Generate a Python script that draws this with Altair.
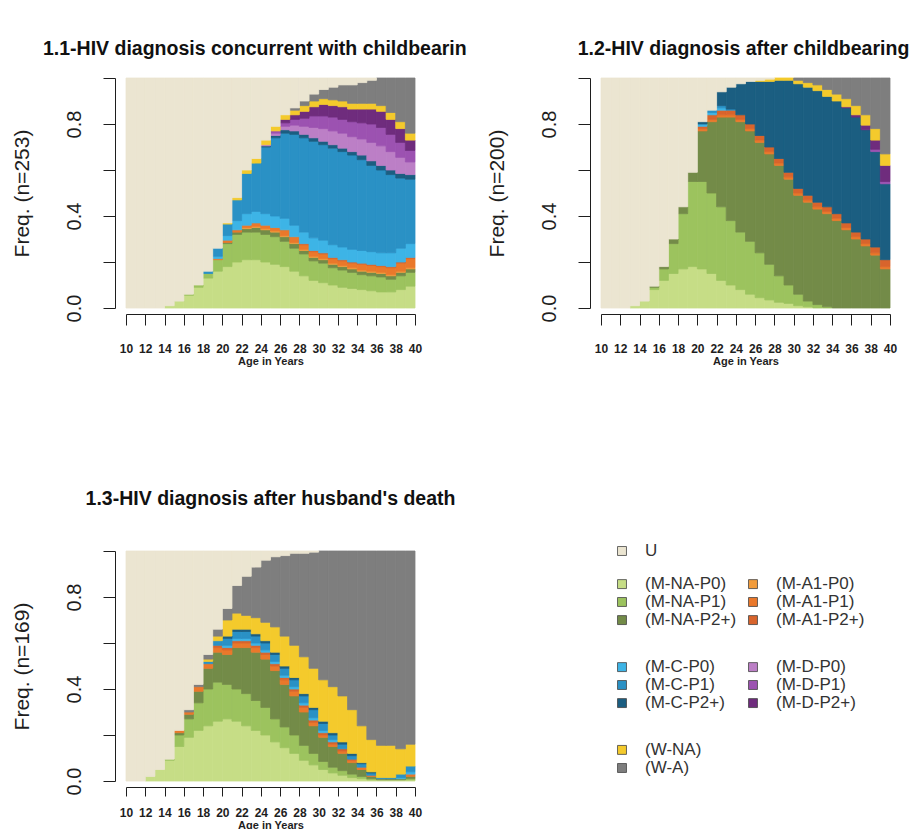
import altair as alt
import pandas as pd

# ---------------- data ----------------
AGES = [10, 11, 12, 13, 14, 15, 16, 17, 18, 19, 20, 21, 22, 23, 24,
        25, 26, 27, 28, 29, 30, 31, 32, 33, 34, 35, 36, 37, 38, 39]
X_TICKS = [10, 12, 14, 16, 18, 20, 22, 24, 26, 28, 30, 32, 34, 36, 38, 40]
Y_TICKS = [0.0, 0.2, 0.4, 0.6, 0.8, 1.0]
Y_LABELED = [0.0, 0.4, 0.8]

# stacking order, bottom -> top
STATES = ["(M-NA-P0)", "(M-NA-P1)", "(M-NA-P2+)",
          "(M-A1-P0)", "(M-A1-P1)", "(M-A1-P2+)",
          "(M-C-P0)", "(M-C-P1)", "(M-C-P2+)",
          "(M-D-P0)", "(M-D-P1)", "(M-D-P2+)",
          "(W-NA)", "(W-A)", "U"]
COLORS = ["#C6DD86", "#9CC35E", "#738B48",
          "#F29C3C", "#EA782B", "#D8642C",
          "#3DB4E6", "#2A91C5", "#1B5E81",
          "#BC7FC6", "#9C52B1", "#6F2C7D",
          "#F4CA2C", "#7E7E7E", "#EBE5D1"]

# ---- panel 1.1 : HIV diagnosis concurrent with childbearing (n=253)
p1_u = [1, 1, 1, 1, .99, .97, .94, .90, .84, .74, .63, .52, .40, .35, .27, .21, .16, .13, .10, .07, .05, .04, .03, .03, .02, .01, 0, 0, 0, 0]
p1_na_p0 = [0, 0, 0, 0, .01, .03, .055, .09, .13, .16, .18, .20, .21, .21, .20, .19, .18, .16, .14, .12, .11, .10, .09, .085, .08, .075, .07, .07, .08, .095]
p1_na_p1 = [0, 0, 0, 0, 0, 0, .005, .01, .02, .05, .10, .12, .12, .12, .12, .12, .11, .10, .095, .085, .085, .075, .075, .07, .065, .065, .065, .055, .06, .06]
p1_na_p2 = [0, 0, 0, 0, 0, 0, 0, 0, 0, 0, .005, .01, .015, .02, .02, .02, .02, .02, .015, .015, .015, .015, .015, .015, .015, .015, .015, .015, .015, .015]
p1_a1_p0 = [0, 0, 0, 0, 0, 0, 0, 0, 0, 0, 0, 0, .005, .005, .005, .005, .005, .005, .005, .005, .005, .005, .005, .005, .005, .005, .005, .005, .005, .005]
p1_a1_p1 = [0, 0, 0, 0, 0, 0, 0, 0, 0, .005, .01, .01, .01, .015, .015, .015, .025, .025, .02, .02, .02, .02, .02, .02, .025, .025, .025, .03, .035, .04]
p1_a1_p2 = [0, 0, 0, 0, 0, 0, 0, 0, 0, 0, 0, 0, 0, 0, 0, 0, 0, 0, .005, .005, .005, .005, .005, .005, .005, .005, .005, .005, .005, .005]
p1_c_p0 = [0, 0, 0, 0, 0, 0, 0, 0, 0, .01, .02, .04, .05, .05, .05, .05, .05, .05, .05, .055, .055, .055, .055, .055, .055, .055, .055, .06, .06, .06]
p1_c_p1 = [0, 0, 0, 0, 0, 0, 0, 0, .01, .035, .05, .09, .175, .21, .29, .34, .37, .395, .41, .42, .415, .42, .415, .41, .395, .375, .36, .34, .305, .28]
p1_c_p2 = [0, 0, 0, 0, 0, 0, 0, 0, 0, 0, 0, 0, 0, 0, .005, .01, .015, .015, .015, .015, .015, .015, .015, .015, .02, .02, .02, .02, .02, .02]
p1_d_p0 = [0, 0, 0, 0, 0, 0, 0, 0, 0, 0, 0, 0, 0, 0, .005, .01, .015, .025, .035, .045, .055, .06, .065, .065, .07, .08, .085, .08, .07, .055]
p1_d_p1 = [0, 0, 0, 0, 0, 0, 0, 0, 0, 0, 0, 0, 0, 0, 0, .01, .015, .025, .035, .05, .055, .06, .06, .065, .07, .08, .08, .075, .065, .05]
p1_d_p2 = [0, 0, 0, 0, 0, 0, 0, 0, 0, 0, 0, 0, 0, 0, 0, 0, .015, .02, .03, .04, .05, .05, .055, .055, .06, .065, .07, .065, .06, .045]
p1_w_na = [0, 0, 0, 0, 0, 0, 0, 0, 0, 0, .005, .01, .015, .02, .02, .02, .02, .02, .025, .025, .025, .025, .025, .025, .025, .025, .025, .03, .03, .03]
p1_w_a = [0, 0, 0, 0, 0, 0, 0, 0, 0, 0, 0, 0, 0, 0, 0, 0, 0, .01, .02, .03, .04, .055, .07, .08, .09, .10, .12, .15, .19, .24]

# ---- panel 1.2 : HIV diagnosis after childbearing (n=200)
p2_u = [1, 1, 1, .99, .97, .905, .82, .70, .56, .41, .19, .14, .06, .04, .025, .015, .01, .005, 0, 0, 0, 0, 0, 0, 0, 0, 0, 0, 0, 0]
p2_na_p0 = [0, 0, 0, .01, .03, .08, .12, .15, .17, .18, .17, .15, .12, .10, .08, .06, .045, .035, .025, .02, .01, .005, 0, 0, 0, 0, 0, 0, 0, 0]
p2_na_p1 = [0, 0, 0, 0, 0, .01, .05, .13, .24, .37, .38, .35, .32, .28, .25, .23, .195, .155, .115, .08, .05, .025, .015, .005, 0, 0, 0, 0, 0, 0]
p2_na_p2 = [0, 0, 0, 0, 0, .005, .01, .02, .03, .04, .22, .31, .39, .45, .48, .48, .48, .48, .48, .46, .43, .43, .415, .405, .38, .34, .30, .27, .23, .17]
p2_a1_p1 = [0, 0, 0, 0, 0, 0, 0, 0, 0, 0, .01, .01, .01, .01, .01, .01, .01, .01, .01, .01, .01, .01, .01, .01, .01, .01, .01, .01, .01, .01]
p2_a1_p2 = [0, 0, 0, 0, 0, 0, 0, 0, 0, 0, .01, .02, .02, .02, .02, .02, .02, .02, .02, .02, .02, .02, .02, .02, .02, .02, .02, .02, .025, .03]
p2_c_p0 = [0, 0, 0, 0, 0, 0, 0, 0, 0, 0, .01, .01, .01, 0, 0, 0, 0, 0, 0, 0, 0, 0, 0, 0, 0, 0, 0, 0, 0, 0]
p2_c_p1 = [0, 0, 0, 0, 0, 0, 0, 0, 0, 0, 0, .01, .01, .005, 0, 0, 0, 0, 0, 0, 0, 0, 0, 0, 0, 0, 0, 0, 0, 0]
p2_c_p2 = [0, 0, 0, 0, 0, 0, 0, 0, 0, 0, .01, 0, .06, .095, .135, .185, .235, .285, .34, .40, .455, .47, .485, .48, .49, .50, .50, .475, .415, .33]
p2_d_p1 = [0, 0, 0, 0, 0, 0, 0, 0, 0, 0, 0, 0, 0, 0, 0, 0, 0, 0, 0, 0, 0, 0, 0, 0, 0, 0, 0, 0, .01, .01]
p2_d_p2 = [0, 0, 0, 0, 0, 0, 0, 0, 0, 0, 0, 0, 0, 0, 0, 0, 0, 0, 0, 0, 0, 0, 0, 0, 0, .005, .01, .02, .04, .07]
p2_w_na = [0, 0, 0, 0, 0, 0, 0, 0, 0, 0, 0, 0, 0, 0, 0, 0, .005, .01, .01, .01, .015, .02, .025, .03, .03, .035, .04, .045, .05, .05]
p2_w_a = [0, 0, 0, 0, 0, 0, 0, 0, 0, 0, 0, 0, 0, 0, 0, 0, 0, 0, 0, 0, .01, .02, .03, .05, .07, .09, .12, .16, .22, .33]

# ---- panel 1.3 : HIV diagnosis after husband's death (n=169)
p3_u = [1, 1, .98, .95, .905, .78, .69, .58, .45, .34, .25, .15, .11, .07, .04, .025, .02, .01, .01, .005, 0, 0, 0, 0, 0, 0, 0, 0, 0, 0]
p3_na_p0 = [0, 0, .02, .05, .09, .15, .19, .22, .24, .26, .27, .26, .24, .22, .20, .17, .145, .12, .09, .07, .05, .035, .025, .015, .01, .005, .005, .005, .005, .005]
p3_na_p1 = [0, 0, 0, 0, .005, .05, .08, .12, .16, .17, .15, .14, .14, .13, .12, .10, .09, .08, .065, .05, .035, .025, .02, .015, .01, .005, 0, 0, 0, .005]
p3_na_p2 = [0, 0, 0, 0, 0, .01, .02, .05, .09, .13, .13, .18, .20, .21, .21, .21, .185, .17, .145, .12, .105, .09, .075, .05, .03, .01, .005, .005, .005, .01]
p3_a1_p1 = [0, 0, 0, 0, 0, .01, .01, .02, .02, .02, .02, .02, .02, .02, .02, .02, .02, .02, .02, .015, .01, .01, .01, .01, .01, .005, 0, 0, 0, .01]
p3_a1_p2 = [0, 0, 0, 0, 0, 0, 0, 0, 0, .01, .01, .01, .01, .01, .01, .01, .01, .01, .01, .01, .01, .01, .01, .005, 0, 0, 0, 0, 0, 0]
p3_c_p0 = [0, 0, 0, 0, 0, 0, 0, 0, 0, 0, .01, .01, .01, .01, .01, .01, .01, .01, .01, .01, .01, .01, 0, 0, 0, 0, 0, 0, .005, .01]
p3_c_p1 = [0, 0, 0, 0, 0, 0, 0, 0, .01, .02, .03, .03, .03, .03, .03, .03, .03, .03, .03, .035, .03, .02, .02, .015, .015, .01, .005, .005, .015, .025]
p3_c_p2 = [0, 0, 0, 0, 0, 0, 0, 0, 0, 0, .01, .01, .01, .01, .01, .01, .01, .01, .01, .01, .01, .01, .01, .01, .005, .005, 0, 0, 0, 0]
p3_w_na = [0, 0, 0, 0, 0, 0, 0, 0, .01, .02, .07, .07, .06, .07, .08, .11, .13, .14, .16, .17, .18, .20, .20, .19, .16, .14, .14, .14, .11, .095]
p3_w_a = [0, 0, 0, 0, 0, 0, .01, .01, .02, .03, .05, .12, .17, .22, .27, .305, .35, .40, .45, .505, .56, .59, .63, .69, .76, .82, .845, .845, .86, .84]

PANEL1 = {"(M-NA-P0)": p1_na_p0, "(M-NA-P1)": p1_na_p1, "(M-NA-P2+)": p1_na_p2,
          "(M-A1-P0)": p1_a1_p0, "(M-A1-P1)": p1_a1_p1, "(M-A1-P2+)": p1_a1_p2,
          "(M-C-P0)": p1_c_p0, "(M-C-P1)": p1_c_p1, "(M-C-P2+)": p1_c_p2,
          "(M-D-P0)": p1_d_p0, "(M-D-P1)": p1_d_p1, "(M-D-P2+)": p1_d_p2,
          "(W-NA)": p1_w_na, "(W-A)": p1_w_a, "U": p1_u}
PANEL2 = {"(M-NA-P0)": p2_na_p0, "(M-NA-P1)": p2_na_p1, "(M-NA-P2+)": p2_na_p2,
          "(M-A1-P1)": p2_a1_p1, "(M-A1-P2+)": p2_a1_p2,
          "(M-C-P0)": p2_c_p0, "(M-C-P1)": p2_c_p1, "(M-C-P2+)": p2_c_p2,
          "(M-D-P1)": p2_d_p1, "(M-D-P2+)": p2_d_p2,
          "(W-NA)": p2_w_na, "(W-A)": p2_w_a, "U": p2_u}
PANEL3 = {"(M-NA-P0)": p3_na_p0, "(M-NA-P1)": p3_na_p1, "(M-NA-P2+)": p3_na_p2,
          "(M-A1-P1)": p3_a1_p1, "(M-A1-P2+)": p3_a1_p2,
          "(M-C-P0)": p3_c_p0, "(M-C-P1)": p3_c_p1, "(M-C-P2+)": p3_c_p2,
          "(W-NA)": p3_w_na, "(W-A)": p3_w_a, "U": p3_u}

# legend layout (grouped two-column legend)
LEG_STATES = ["U",
              "(M-NA-P0)", "(M-NA-P1)", "(M-NA-P2+)",
              "(M-A1-P0)", "(M-A1-P1)", "(M-A1-P2+)",
              "(M-C-P0)", "(M-C-P1)", "(M-C-P2+)",
              "(M-D-P0)", "(M-D-P1)", "(M-D-P2+)",
              "(W-NA)", "(W-A)"]
LEG_COL = [0, 0, 0, 0, 1, 1, 1, 0, 0, 0, 1, 1, 1, 0, 0]
LEG_ROW = [0, 1.83, 2.82, 3.82, 1.83, 2.82, 3.82, 6.42, 7.41, 8.41, 6.42, 7.41, 8.41, 11.0, 12.0]

FONT = "Liberation Sans"
INK = "#1e1e1e"
color_scale = alt.Scale(domain=STATES, range=COLORS)


def long_table(series):
    rows = []
    for k, state in enumerate(STATES):
        vals = series.get(state)
        if vals is None:
            continue
        for age, v in zip(AGES, vals):
            if v > 0:
                rows.append({"state": state, "order": k, "age": age, "value": v})
    return pd.DataFrame(rows)


def panel(series, n, title, x_label_pad, x_tick):
    df = long_table(series)
    x_axis = alt.Axis(values=X_TICKS, format="d", title="Age in Years", grid=False,
                      offset=6, tickSize=x_tick, labelPadding=x_label_pad, labelFontSize=12,
                      labelFontWeight="bold", labelFont=FONT, labelOverlap=False,
                      labelFlush=False, labelColor=INK, domainColor=INK, tickColor=INK,
                      titleFont=FONT, titleFontSize=11, titleFontWeight="bold",
                      titlePadding=1, titleColor=INK)
    y_axis = alt.Axis(values=Y_TICKS, title=f"Freq. (n={n})", grid=False,
                      labelExpr="indexof(%s, datum.value) >= 0 ? format(datum.value, '.1f') : ''" % str(Y_LABELED),
                      offset=11, tickSize=12, labelAngle=270, labelAlign="center",
                      labelBaseline="bottom", labelPadding=19, labelFontSize=20,
                      labelFont=FONT, labelOverlap=False, labelFlush=False,
                      labelColor=INK, domainColor=INK, tickColor=INK,
                      titleFont=FONT, titleFontSize=21, titleFontWeight="normal",
                      titlePadding=32, titleColor=INK)
    return alt.Chart(df).transform_calculate(
        age_end="datum.age + 1"
    ).transform_stack(
        stack="value", groupby=["age"], as_=["y0", "y1"], offset="normalize",
        sort=[alt.SortField("order", order="ascending")]
    ).mark_rect(strokeWidth=0.8).encode(
        x=alt.X("age:Q", scale=alt.Scale(domain=[10, 40], nice=False, zero=False), axis=x_axis),
        x2="age_end:Q",
        y=alt.Y("y0:Q", scale=alt.Scale(domain=[0, 1], nice=False), axis=y_axis),
        y2="y1:Q",
        color=alt.Color("state:N", scale=color_scale, legend=None),
        stroke=alt.Stroke("state:N", scale=color_scale, legend=None),
    ).properties(width=289, height=230, title=title)


def ttl(text, anchor, dx, offset):
    return alt.TitleParams(text=text, anchor=anchor, frame="group", dx=dx, offset=offset,
                           baseline="alphabetic", font=FONT, fontSize=19.5,
                           fontWeight="bold", color="#111111")


c1 = panel(PANEL1, 253, ttl("1.1-HIV diagnosis concurrent with childbearin", "start", -83, 3), 18, 11)
c2 = panel(PANEL2, 200, ttl("1.2-HIV diagnosis after childbearing", "middle", -2, 3), 18, 11)
c3 = panel(PANEL3, 169, ttl("1.3-HIV diagnosis after husband's death", "middle", 0, 26), 11, 9)

legdf = pd.DataFrame({"state": LEG_STATES, "col": LEG_COL, "row": LEG_ROW})
leg_base = alt.Chart(legdf).encode(
    x=alt.X("col:Q", scale=alt.Scale(domain=[0, 1], range=[21, 152]), axis=None),
    y=alt.Y("row:Q", scale=alt.Scale(domain=[0, 12], range=[0, 217]), axis=None),
)
leg_sq = leg_base.mark_square(size=80, opacity=1, stroke="#444444", strokeWidth=0.8).encode(
    color=alt.Color("state:N", scale=color_scale, legend=None))
leg_tx = leg_base.mark_text(align="left", baseline="middle", dx=23, font=FONT,
                            fontSize=17, color="#333333").encode(text="state:N")
legend = alt.layer(leg_sq, leg_tx).properties(
    width=289, height=230, view=alt.ViewBackground(strokeWidth=0, stroke="transparent"))

chart = alt.concat(
    c1, c2, c3, legend, columns=2,
    spacing={"row": 243, "column": 186}, bounds="flush"
).resolve_scale(
    x="independent", y="independent"
).properties(
    padding={"left": 11, "top": 39, "right": 0, "bottom": 0},
    background="white",
).configure_view(strokeWidth=0, stroke="transparent")

chart.save("out.html", embed_options={"renderer": "svg", "actions": False})
